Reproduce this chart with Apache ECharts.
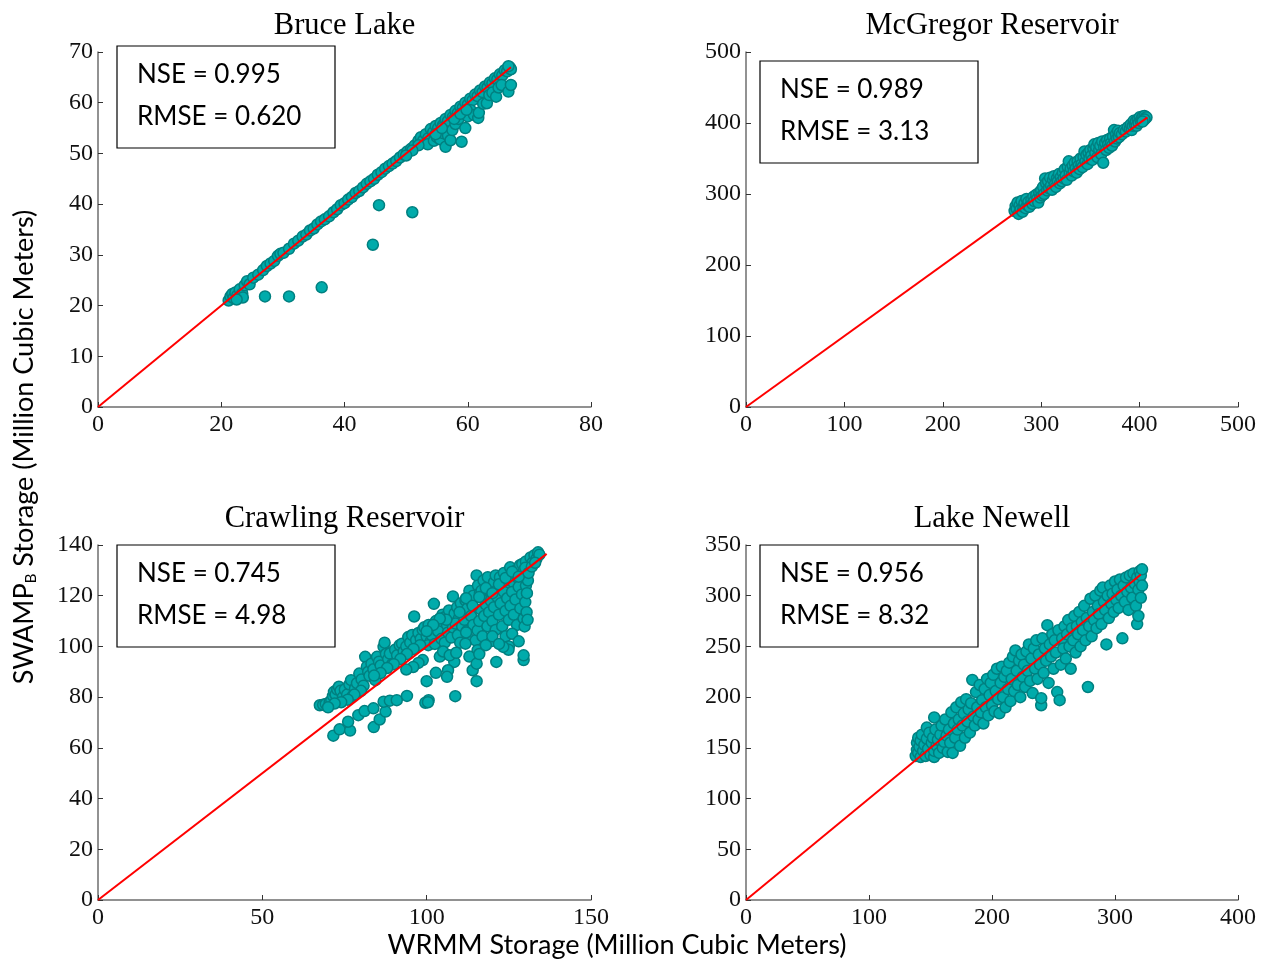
<!DOCTYPE html>
<html>
<head>
<meta charset="utf-8">
<script src="https://cdn.jsdelivr.net/npm/echarts@6/dist/echarts.min.js"></script>
<style>html,body{margin:0;padding:0;background:#fff}#c{width:1269px;height:964px}</style>
</head>
<body>
<div id="c"></div>
<script>
// ---- Panel titles & statistics ----
const panelTitles = ['Bruce Lake', 'McGregor Reservoir', 'Crawling Reservoir', 'Lake Newell'];
const nseValues = ['0.995', '0.989', '0.745', '0.956'];
const rmseValues = ['0.620', '3.13', '4.98', '8.32'];

// ---- Axis tick values ----
const bruceXTicks = [0, 20, 40, 60, 80];
const bruceYTicks = [0, 10, 20, 30, 40, 50, 60, 70];
const mcgregorXTicks = [0, 100, 200, 300, 400, 500];
const mcgregorYTicks = [0, 100, 200, 300, 400, 500];
const crawlingXTicks = [0, 50, 100, 150];
const crawlingYTicks = [0, 20, 40, 60, 80, 100, 120, 140];
const newellXTicks = [0, 100, 200, 300, 400];
const newellYTicks = [0, 50, 100, 150, 200, 250, 300, 350];

// ---- 1:1 reference lines ----
const bruceLine = [[0, 0], [67, 67]];
const mcgregorLine = [[0, 0], [408, 408]];
const crawlingLine = [[0, 0], [136.5, 136.5]];
const newellLine = [[0, 0], [321, 321]];

// ---- Scatter data [WRMM, SWAMP_B] ----
const bruceLake = [
[21.2,21.0],[21.5,21.8],[21.8,22.3],[22.0,21.5],[22.3,22.6],[22.6,22.0],[23.0,23.2],[23.4,22.4],[23.8,24.0],[24.2,24.8],[24.6,24.2],[25.2,25.5],[26.0,26.1],[26.8,27.0],[27.4,27.8],[28.0,28.3],[28.6,28.8],[29.2,29.8],[29.6,30.2],[30.1,30.4],[31.0,31.2],[31.8,32.2],[32.5,32.8],[33.2,33.6],[33.8,34.0],[34.4,34.8],[35.0,35.2],[35.6,36.0],[36.2,36.6],[36.8,37.0],[37.5,37.6],[38.2,38.4],[38.8,39.0],[39.4,39.8],[40.0,40.2],[40.6,40.9],[41.2,41.4],[41.8,42.2],[42.4,42.6],[43.0,43.3],[43.6,44.0],[44.2,44.5],[44.8,45.0],[45.4,45.8],[46.0,46.3],[46.6,47.0],[47.2,47.5],[47.8,48.0],[48.4,48.5],[49.0,49.2],[49.6,49.8],[50.2,50.4],[50.8,50.9],[51.4,51.6],[52.0,52.5],[52.4,53.2],[52.8,52.6],[53.2,53.8],[53.6,53.0],[54.0,54.8],[54.4,54.2],[54.8,55.4],[55.2,55.0],[55.6,56.0],[56.0,55.6],[56.4,56.8],[56.8,56.4],[57.2,57.6],[57.6,57.2],[58.0,58.4],[58.4,58.0],[58.8,59.2],[59.2,59.0],[59.6,60.0],[60.0,59.6],[60.4,60.8],[60.8,60.5],[61.2,61.6],[61.6,61.3],[62.0,62.4],[62.4,62.1],[62.8,63.2],[63.2,63.0],[63.6,64.0],[64.0,63.8],[64.4,64.8],[64.8,64.6],[65.2,65.6],[65.6,65.4],[66.0,66.4],[66.4,66.2],[66.8,67.0],[67.0,66.6],[66.6,67.2],
[53.5,51.8],[54.5,52.5],[55.0,53.2],[55.5,52.8],[56.0,54.0],[56.4,51.3],[56.8,53.5],[57.2,52.6],[57.5,54.6],[58.0,55.8],[58.5,56.8],[59.0,52.3],[59.6,55.0],[60.0,57.3],[60.5,58.5],[61.0,57.6],[61.7,57.0],[61.8,58.0],[62.5,59.8],[63.1,59.9],[63.5,61.5],[64.0,62.0],[64.6,61.2],[65.0,63.0],[65.5,63.5],[66.6,62.2],[67.0,63.5],[54.8,53.8],[55.8,55.0],[57.8,56.8],[58.8,57.8],[59.8,58.6],[52.0,51.6],[51.0,50.6],[50.0,49.6],[23.5,21.6],[22.5,21.2],
[27.1,21.8],[31.0,21.8],[36.3,23.6],[44.6,32.0],[45.6,39.8],[51.0,38.4]
];

const mcgregor = [
[273,276],[274,283],[275,279],[276,288],[277,272],[278,284],[279,278],[280,290],[281,275],[282,282],[283,287],[284,280],[285,293],[286,284],[287,289],[288,282],[290,292],[291,286],[292,296],[293,290],[295,299],[296,293],[297,288],[298,302],[299,295],[300,305],[301,298],[302,310],[303,300],[304,322],[305,315],[306,305],[307,318],[308,308],[309,323],[310,312],[311,306],[312,320],[313,325],[314,314],[315,310],[316,322],[317,318],[318,328],[319,315],[320,324],[321,318],[322,330],[323,322],[324,335],[325,326],[326,320],[327,338],[328,346],[329,330],[330,336],[331,326],[332,340],[333,332],[334,344],[335,336],[336,330],[337,346],[338,340],[339,335],[340,350],[341,342],[342,338],[343,352],[344,360],[345,346],[346,355],[347,342],[348,358],[349,350],[350,362],[351,354],[352,348],[353,364],[354,370],[355,358],[356,366],[357,352],[358,372],[359,362],[360,368],[361,356],[362,374],[363,344],[364,366],[365,372],[366,362],[367,376],[368,370],[369,365],[370,378],[371,372],[372,368],[373,381],[374,390],[375,374],[376,384],[377,378],[378,389],[379,380],[380,386],[382,384],[384,390],[386,388],[388,394],[390,392],[391,398],[392,390],[393,396],[394,403],[395,398],[396,402],[397,396],[398,405],[399,400],[400,408],[401,403],[402,406],[403,409],[404,404],[405,410],[406,407],[407,408],[405,405],[403,402]
];

const crawling = [
[67.5,76.8],[68.5,77.0],[69.3,77.3],[70.5,78.0],[71.0,78.8],[71.5,80.5],[71.8,82.1],[72.3,81.0],[72.8,83.0],[73.3,84.1],[73.8,82.5],[74.5,80.0],[75.1,83.0],[75.8,81.0],[76.5,85.0],[77.0,86.7],[77.5,80.5],[78.2,83.4],[78.8,85.5],[79.5,89.3],[80.2,87.0],[80.8,84.5],[81.3,95.9],[81.8,92.0],[82.2,90.0],[82.6,88.4],[83.2,93.2],[83.8,91.0],[84.4,86.7],[84.9,95.9],[85.5,94.0],[86.0,92.5],[86.9,99.8],[87.2,101.5],[87.6,97.0],[88.3,95.0],[88.8,97.2],[89.5,93.0],[90.4,98.7],[91.0,96.5],[91.8,100.5],[92.5,101.1],[93.0,98.0],[93.8,100.0],[94.4,103.7],[95.0,101.5],[95.6,104.5],[96.2,111.8],[96.8,102.5],[97.5,105.3],[98.2,103.0],[98.8,106.5],[99.3,107.6],[100.0,104.0],[100.6,108.5],[101.2,102.0],[101.8,106.3],[102.2,116.8],[102.8,110.0],[103.2,104.5],[103.7,109.6],[104.3,107.0],[104.8,112.5],[105.6,111.6],[106.2,108.0],[106.8,114.2],[107.3,110.5],[108.0,119.7],[108.5,113.0],[109.3,115.5],[109.8,111.0],[110.4,117.0],[111.0,113.5],[111.8,118.1],[112.4,115.0],[113.0,122.0],[113.6,117.5],[114.2,120.0],[115.2,128.0],[115.6,124.0],[116.2,121.0],[116.7,122.0],[117.3,126.0],[117.8,118.0],[118.6,127.3],[119.2,123.0],[119.8,120.0],[120.5,125.3],[121.0,128.0],[121.6,122.5],[122.3,127.3],[122.8,124.0],[123.5,129.0],[124.0,126.0],[124.6,122.0],[125.4,131.2],[126.0,128.0],[126.5,125.0],[127.2,130.0],[127.8,127.0],[128.4,132.0],[129.1,132.5],[129.6,130.0],[130.2,133.5],[130.8,131.0],[131.6,135.1],[132.2,133.0],[132.8,136.0],[133.4,134.5],[133.9,137.1],[134.3,136.2],
[100.5,100.5],[101.5,104.5],[102.5,101.0],[103.5,106.0],[104.5,103.0],[105.5,101.5],[106.5,105.5],[107.5,103.5],[108.0,107.5],[108.8,109.0],[109.5,104.5],[110.2,101.5],[110.8,108.0],[111.5,110.5],[112.2,106.0],[112.8,103.0],[113.5,112.0],[114.2,108.5],[114.9,102.4],[115.5,106.3],[115.5,98.5],[116.0,110.0],[116.5,114.5],[117.0,104.0],[117.5,112.0],[118.0,116.5],[118.5,108.0],[119.0,113.5],[119.5,118.0],[120.0,110.0],[120.5,115.5],[121.0,106.5],[121.5,119.5],[122.0,112.5],[122.5,117.0],[123.0,108.0],[123.5,121.5],[124.0,114.0],[124.5,119.0],[125.0,110.5],[125.5,116.0],[126.0,121.5],[126.5,112.5],[127.0,118.5],[127.5,108.5],[128.0,123.5],[128.5,115.0],[129.0,120.5],[129.5,111.0],[129.8,107.9],[130.0,117.5],[130.2,124.0],[130.4,113.5],[130.5,121.0],[130.6,128.0],[130.7,110.5],[130.8,126.0],[124.0,104.0],[125.0,100.0],[124.9,98.7],[123.3,99.8],[119.8,102.1],[121.2,93.9],[129.5,94.6],[129.5,96.5],[111.8,101.1],[113.0,96.0],[114.0,90.6],[115.2,93.2],[115.2,86.3],[116.0,97.0],[108.4,93.9],[106.5,90.6],[106.2,88.0],[102.8,89.6],[100.0,86.3],[108.7,80.4],[100.6,78.8],[99.6,77.8],[104.0,96.0],[105.0,98.0],[107.0,96.5],[109.0,97.5],[98.8,94.6],[97.5,93.5],[95.9,91.9],[93.8,90.9],[112.0,105.5],[118.0,100.5],[120.0,104.0],[122.0,101.0],[126.0,105.0],[128.0,102.0],[110.0,113.5],[112.0,119.0],[114.0,116.0],[116.0,119.5],[118.0,123.0],[120.0,121.0],[122.0,124.5],[124.0,127.0],[126.0,129.5],[128.0,127.5],[130.0,131.0],[131.0,129.0],[132.0,131.5],[133.0,133.0],[106.0,110.5],[104.0,111.0],[102.0,108.5],[100.0,106.0],[98.0,100.5],[96.0,99.0],[94.0,97.0],[92.0,95.0],[90.0,93.0],[88.0,91.5],[86.0,89.5],[84.0,88.5],[80.0,82.5],[78.0,81.0],[76.0,79.0],[74.0,78.0],[72.0,77.5],[70.0,76.0],
[71.6,64.8],[73.5,67.3],[76.7,66.8],[76.1,70.3],[79.2,72.9],[81.1,74.5],[83.8,75.6],[83.9,68.2],[85.7,71.2],[87.5,74.3],[86.9,78.2],[88.8,78.6],[90.9,78.8],[94.0,80.5],[100.4,78.0]
];

const newell = [
[138,142],[139,148],[139,155],[140,160],[140,145],[141,151],[142,157],[142,141],[143,163],[144,147],[145,153],[146,142],[147,159],[147,170],[148,149],[149,165],[150,143],[151,155],[152,160],[153,141],[153,147],[153,180],[154,168],[155,152],[156,158],[157,145],[158,163],[159,172],[160,150],[161,156],[162,178],[163,162],[164,146],[165,168],[166,155],[167,185],[168,145],[169,174],[170,160],[171,190],[172,168],[173,178],[174,152],[175,195],[176,172],[177,184],[178,160],[179,198],[180,176],[181,188],[182,165],[183,194],[184,217],[185,181],[186,172],[187,205],[188,190],[189,178],[190,212],[191,185],[192,197],[193,174],[194,208],[195,190],[196,218],[197,182],[198,202],[199,214],[200,192],[201,222],[202,186],[203,206],[204,228],[205,198],[206,184],[207,214],[208,230],[209,200],[210,220],[211,190],[212,226],[213,208],[214,234],[215,196],[216,218],[217,240],[218,206],[219,246],[220,226],[221,212],[222,236],[223,200],[224,242],[225,220],[226,232],[227,210],[228,245],[229,226],[230,252],[231,216],[232,238],[233,204],[234,248],[235,228],[236,256],[237,218],[238,242],[239,232],[240,192],[240,199],[241,258],[242,224],[243,248],[244,236],[245,271],[246,214],[247,252],[248,240],[249,262],[250,228],[251,256],[252,244],[253,205],[254,266],[255,197],[256,232],[257,258],[258,248],[259,270],[260,238],[261,262],[262,276],[263,250],[264,228],[265,268],[266,256],[267,280],[268,244],[269,270],[270,262],[271,284],[272,250],[273,274],[274,266],[275,290],[276,256],[277,278],[278,210],[279,270],[280,297],[281,260],[282,284],[283,276],[284,300],[285,268],[286,290],[287,282],[288,305],[289,272],[290,308],[291,294],[292,286],[293,252],[294,300],[295,278],[296,310],[297,292],[298,302],[299,284],[300,314],[301,296],[302,306],[303,288],[304,316],[305,300],[306,258],[307,310],[308,294],[309,318],[310,304],[311,286],[312,320],[313,308],[314,298],[315,322],[316,312],[317,290],[318,272],[318,318],[319,306],[319,280],[320,324],[320,314],[321,298],[321,320],[322,310],[322,326]
];

// ---- Build chart ----
const grids = [
  {left: 98, top: 52, width: 493, height: 355},
  {left: 746, top: 52, width: 492, height: 355},
  {left: 98, top: 545, width: 493, height: 355},
  {left: 746, top: 545, width: 492, height: 355}
];
const xTicks = [bruceXTicks, mcgregorXTicks, crawlingXTicks, newellXTicks];
const yTicks = [bruceYTicks, mcgregorYTicks, crawlingYTicks, newellYTicks];
const scatterData = [bruceLake, mcgregor, crawling, newell];
const lineData = [bruceLine, mcgregorLine, crawlingLine, newellLine];

function axisFor(ticks, idx, isX) {
  return {
    type: 'value', gridIndex: idx,
    min: ticks[0], max: ticks[ticks.length - 1], interval: ticks[1] - ticks[0],
    axisLine: {show: true, onZero: false, lineStyle: {color: '#6e6e6e', width: 1.5}},
    axisTick: {show: true, inside: true, length: 5, lineStyle: {color: '#333', width: 1}},
    splitLine: {show: false},
    axisLabel: {color: '#111', fontFamily: 'Liberation Serif', fontSize: 24, margin: isX ? 6 : 5}
  };
}

const serif = 'Liberation Serif';
const sans = 'Lato';
const titles = panelTitles.map((t, i) => ({
  text: t,
  left: grids[i].left + grids[i].width / 2 - 5,
  top: grids[i].top - 47,
  textAlign: 'center',
  textStyle: {fontFamily: serif, fontSize: 30.5, fontWeight: 'normal', color: '#000'}
}));

const boxes = [
  {x: 117, y: 46}, {x: 760, y: 61}, {x: 117, y: 545}, {x: 760, y: 545}
];
const graphic = [];
boxes.forEach((b, i) => {
  graphic.push({type: 'rect', shape: {x: b.x, y: b.y, width: 218, height: 102},
    style: {fill: '#fff', stroke: '#000', lineWidth: 1.2}, z: 10});
  graphic.push({type: 'text', x: b.x + 20, y: b.y + 29, z: 11,
    style: {text: 'NSE = ' + nseValues[i], font: '26px Lato', fill: '#000', verticalAlign: 'middle'}});
  graphic.push({type: 'text', x: b.x + 20, y: b.y + 71, z: 11,
    style: {text: 'RMSE = ' + rmseValues[i], font: '26px Lato', fill: '#000', verticalAlign: 'middle'}});
});
graphic.push({type: 'text', x: 617, y: 945,
  style: {text: 'WRMM Storage (Million Cubic Meters)', font: '27px Lato', fill: '#000', align: 'center', verticalAlign: 'middle'}});
graphic.push({type: 'text', x: 24, y: 447, rotation: Math.PI / 2,
  style: {text: '{a|SWAMP}{b|B}{a| Storage (Million Cubic Meters)}', fill: '#000', align: 'center', verticalAlign: 'middle',
    rich: {a: {fontFamily: sans, fontSize: 27, fill: '#000', lineHeight: 30}, b: {fontFamily: sans, fontSize: 15, fill: '#000', verticalAlign: 'bottom', lineHeight: 30, padding: [8, 0, 0, 0]}}}});

const series = [];
scatterData.forEach((d, i) => {
  series.push({type: 'scatter', xAxisIndex: i, yAxisIndex: i, data: d, symbolSize: 11,
    itemStyle: {color: '#00abab', borderColor: '#008080', borderWidth: 1.5, opacity: 1}, z: 2, animation: false});
  series.push({type: 'line', xAxisIndex: i, yAxisIndex: i, data: lineData[i], symbol: 'none',
    lineStyle: {color: '#ff0000', width: 2}, z: 3, animation: false});
});

const chart = echarts.init(document.getElementById('c'), null, {renderer: 'canvas'});
chart.setOption({
  animation: false,
  backgroundColor: '#fff',
  title: titles,
  grid: grids,
  xAxis: xTicks.map((t, i) => axisFor(t, i, true)),
  yAxis: yTicks.map((t, i) => axisFor(t, i, false)),
  series: series,
  graphic: graphic
});
</script>
</body>
</html>
